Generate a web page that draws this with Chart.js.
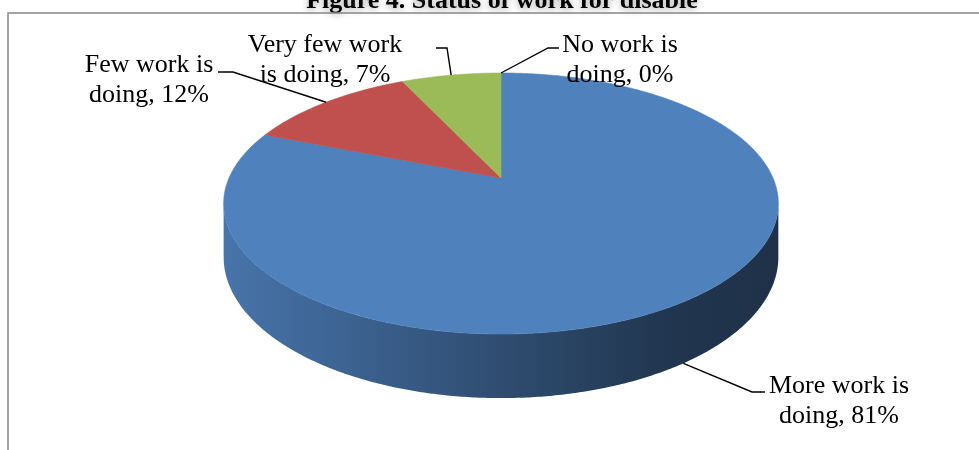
<!DOCTYPE html>
<html>
<head>
<meta charset="utf-8">
<title>Status of work for disable</title>
<script src="https://cdn.jsdelivr.net/npm/chart.js@4/dist/chart.umd.min.js"></script>
<style>
  html, body { margin: 0; padding: 0; background: #fff; }
  #wrap { width: 979px; height: 450px; }
</style>
</head>
<body>
<div id="wrap"><canvas id="chart" width="979" height="450"></canvas></div>
<script>
// === Data ===
const categories = ["More work is doing", "Few work is doing", "Very few work is doing", "No work is doing"];
const shares = [81, 12, 7, 0];
const sliceColors = ["#4f81bd", "#c0504d", "#9bbb59", "#8064a2"];

// label boxes: centre x / first baseline, and the leader hook beside the text
const labelSpots = [
    { cx: 839, y: 393, hookX: 765, elbowX: 752, elbowY: 392 },
    { cx: 149, y: 72,  hookX: 218, elbowX: 233, elbowY: 72 },
    { cx: 325, y: 52,  hookX: 436, elbowX: 447, elbowY: 48 },
    { cx: 620, y: 52,  hookX: 559, elbowX: 548, elbowY: 48 }
];

const FONT = '26px "Liberation Serif", "Times New Roman", serif';
const TILT = 0.1955;   // perspective strength
const WIDE = 2.0;      // horizontal stretch of the disc
const FLAT = 0.923;    // vertical squash of the disc
const DEPTH = 0.379;   // thickness of the pie

// project a point of the unit disc (angle, r) onto the screen, drop=1 is the underside
function project(el, angle, r, drop) {
    const R = el.outerRadius;
    const X = r * Math.cos(angle), Z = r * Math.sin(angle);
    const w = 1 - TILT * Z;
    return {
        x: el.x + WIDE * R * X / w,
        y: el.y + (FLAT * R * Z + drop * DEPTH * R) / w
    };
}

function shade(hex, f) {
    const n = parseInt(hex.slice(1), 16);
    const r = Math.round(((n >> 16) & 255) * f);
    const g = Math.round(((n >> 8) & 255) * f);
    const b = Math.round((n & 255) * f);
    return `rgb(${r},${g},${b})`;
}

function wrapText(ctx, text, maxW) {
    const words = text.split(" ");
    const lines = [];
    let cur = "";
    words.forEach(w => {
        const test = cur ? cur + " " + w : w;
        if (cur && ctx.measureText(test).width > maxW) {
            lines.push(cur);
            cur = w;
        } else {
            cur = test;
        }
    });
    if (cur) lines.push(cur);
    return lines;
}

const pie3d = {
    id: 'pie3d',
    beforeDraw(chart) {
        const ctx = chart.ctx;
        ctx.save();
        ctx.fillStyle = "#fff";
        ctx.fillRect(0, 0, chart.width, chart.height);

        // title, partly above the frame
        ctx.font = 'bold 26px "Liberation Serif", "Times New Roman", serif';
        ctx.textAlign = "center";
        ctx.textBaseline = "alphabetic";
        ctx.shadowColor = "rgba(0,0,0,0.35)";
        ctx.shadowBlur = 7;
        ctx.shadowOffsetY = 2;
        ctx.fillStyle = "#000";
        ctx.fillText("Figure 4. Status of work for disable", 502, 8);
        ctx.restore();

        // chart frame
        ctx.save();
        ctx.strokeStyle = "#858585";
        ctx.lineWidth = 1.5;
        ctx.strokeRect(8, 13, chart.width + 20, chart.height + 20);
        ctx.restore();
    },
    beforeDatasetsDraw(chart) {
        const ctx = chart.ctx;
        const meta = chart.getDatasetMeta(0);
        const arcs = meta.data;
        const step = Math.PI / 360;
        const a0 = Math.asin(TILT), a1 = Math.PI - a0;

        // side wall, only the front half shows
        arcs.forEach((el, i) => {
            [0, 2 * Math.PI].forEach(shift => {
                const s = Math.max(el.startAngle, a0 + shift);
                const e = Math.min(el.endAngle, a1 + shift);
                if (e <= s) return;
                const left = project(el, Math.PI, 1, 0).x - 4;
                const right = project(el, 0, 1, 0).x + 4;
                const grad = ctx.createLinearGradient(left, 0, right, 0);
                const base = sliceColors[i];
                grad.addColorStop(0, shade(base, 0.9));
                grad.addColorStop(0.5, shade(base, 0.6));
                grad.addColorStop(0.8, shade(base, 0.42));
                grad.addColorStop(1, shade(base, 0.38));
                ctx.beginPath();
                for (let a = s; a <= e; a += step) {
                    const p = project(el, a, 1, 0);
                    a === s ? ctx.moveTo(p.x, p.y) : ctx.lineTo(p.x, p.y);
                }
                for (let a = e; a >= s; a -= step) {
                    const p = project(el, a, 1, 1);
                    ctx.lineTo(p.x, p.y);
                }
                ctx.closePath();
                ctx.fillStyle = grad;
                ctx.fill();
            });
        });

        // top face
        arcs.forEach((el, i) => {
            if (el.endAngle - el.startAngle <= 0) return;
            const c = project(el, 0, 0, 0);
            ctx.beginPath();
            ctx.moveTo(c.x, c.y);
            for (let a = el.startAngle; a < el.endAngle; a += step) {
                const p = project(el, a, 1, 0);
                ctx.lineTo(p.x, p.y);
            }
            const last = project(el, el.endAngle, 1, 0);
            ctx.lineTo(last.x, last.y);
            ctx.closePath();
            ctx.fillStyle = sliceColors[i];
            ctx.fill();
            ctx.strokeStyle = sliceColors[i];
            ctx.lineWidth = 0.6;
            ctx.stroke();
        });

        // data labels with leader lines
        ctx.save();
        ctx.font = FONT;
        ctx.fillStyle = "#000";
        ctx.strokeStyle = "#000";
        ctx.lineWidth = 1.4;
        ctx.textAlign = "center";
        arcs.forEach((el, i) => {
            const spot = labelSpots[i];
            const mid = (el.startAngle + el.endAngle) / 2;
            let tip = project(el, mid, 1, 0);
            const onFront = Math.sin(mid) > TILT;
            if (onFront) tip = project(el, mid, 1, 1);
            ctx.beginPath();
            ctx.moveTo(spot.hookX, spot.elbowY);
            ctx.lineTo(spot.elbowX, spot.elbowY);
            ctx.lineTo(tip.x, tip.y);
            ctx.stroke();

            const lines = wrapText(ctx, `${categories[i]}, ${shares[i]}%`, 165);
            lines.forEach((ln, k) => ctx.fillText(ln, spot.cx, spot.y + k * 30));
        });
        ctx.restore();
        return false;
    }
};

new Chart(document.getElementById("chart"), {
    type: 'pie',
    data: {
        labels: categories,
        datasets: [{
            data: shares,
            backgroundColor: sliceColors,
            borderWidth: 0
        }]
    },
    options: {
        responsive: false,
        animation: false,
        layout: { padding: { left: 365, right: 342, top: 42, bottom: 136 } },
        plugins: {
            legend: { display: false },
            tooltip: { enabled: false },
            title: { display: false }
        }
    },
    plugins: [pie3d]
});
</script>
</body>
</html>
